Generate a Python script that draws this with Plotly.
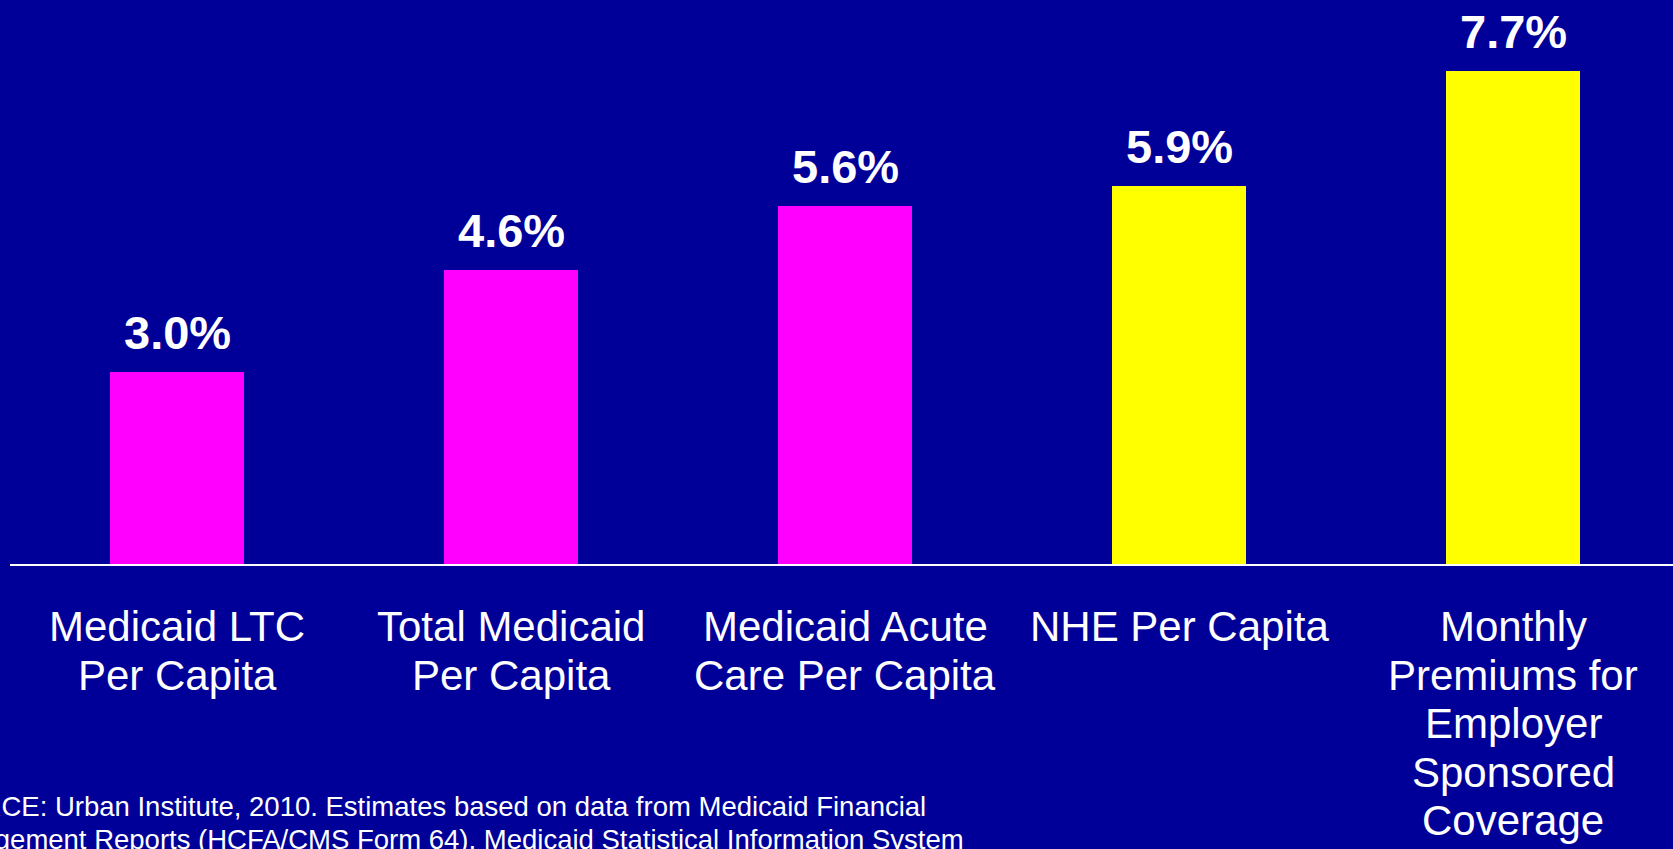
import plotly.graph_objects as go

# Average annual growth rates, 2000-2009
categories = [
    "Medicaid LTC<br>Per Capita",
    "Total Medicaid<br>Per Capita",
    "Medicaid Acute<br>Care Per Capita",
    "NHE Per Capita",
    "Monthly<br>Premiums for<br>Employer<br>Sponsored<br>Coverage",
]
growth = [3.0, 4.6, 5.6, 5.9, 7.7]
bar_colors = ["#FF00FF", "#FF00FF", "#FF00FF", "#FFFF00", "#FFFF00"]
source_lines = [
    "SOURCE: Urban Institute, 2010. Estimates based on data from Medicaid Financial",
    "Management Reports (HCFA/CMS Form 64), Medicaid Statistical Information System",
]

W, H = 1673, 849
M_L, M_R, M_T, M_B = 10, 0, 0, 285
PLOT_H = H - M_T - M_B
FONT = "Arial, 'Liberation Sans', sans-serif"
BG = "#000099"

x = list(range(len(categories)))

fig = go.Figure(
    go.Bar(
        x=x,
        y=growth,
        width=0.4,
        marker=dict(color=bar_colors, line=dict(width=0)),
        hoverinfo="skip",
    )
)

annotations = []

# value labels above each bar
for xi, v in zip(x, growth):
    annotations.append(dict(
        x=xi, y=v, xref="x", yref="y",
        text=f"<b>{v:.1f}%</b>", showarrow=False,
        yanchor="bottom", yshift=11,
        font=dict(family=FONT, size=47, color="white"),
    ))


def px_to_paper(py):
    return (H - M_B - py) / PLOT_H


# category labels under the axis, one annotation per line
for xi, cat in zip(x, categories):
    for j, line in enumerate(cat.split("<br>")):
        baseline = 641 + 48.5 * j
        annotations.append(dict(
            x=xi, xref="x", y=px_to_paper(baseline), yref="paper",
            text=line, showarrow=False,
            xanchor="center", yanchor="bottom", yshift=-11,
            font=dict(family=FONT, size=42, color="white"),
        ))

# source note at the bottom left (runs past the left edge of the page)
source_left = [-80, -76]
for j, line in enumerate(source_lines):
    baseline = 816 + 33 * j
    annotations.append(dict(
        x=(source_left[j] - M_L) / (W - M_L - M_R), xref="paper",
        y=px_to_paper(baseline), yref="paper",
        text=line, showarrow=False,
        xanchor="left", yanchor="bottom", yshift=-8,
        font=dict(family=FONT, size=27.5, color="white"),
    ))

fig.update_layout(
    width=W, height=H,
    margin=dict(l=M_L, r=M_R, t=M_T, b=M_B, pad=0),
    paper_bgcolor=BG, plot_bgcolor=BG,
    showlegend=False,
    bargap=0,
    annotations=annotations,
    xaxis=dict(
        range=[-0.5, -0.5 + (W - M_L - M_R) / 334],
        showgrid=False, zeroline=False,
        showticklabels=False, ticks="",
        showline=True, linecolor="white", linewidth=2,
        fixedrange=True,
    ),
    yaxis=dict(
        range=[0, PLOT_H / 64],
        showgrid=False, zeroline=False,
        showticklabels=False, ticks="", showline=False,
        fixedrange=True,
    ),
)

fig.write_html("out.html", config={"displayModeBar": False})
